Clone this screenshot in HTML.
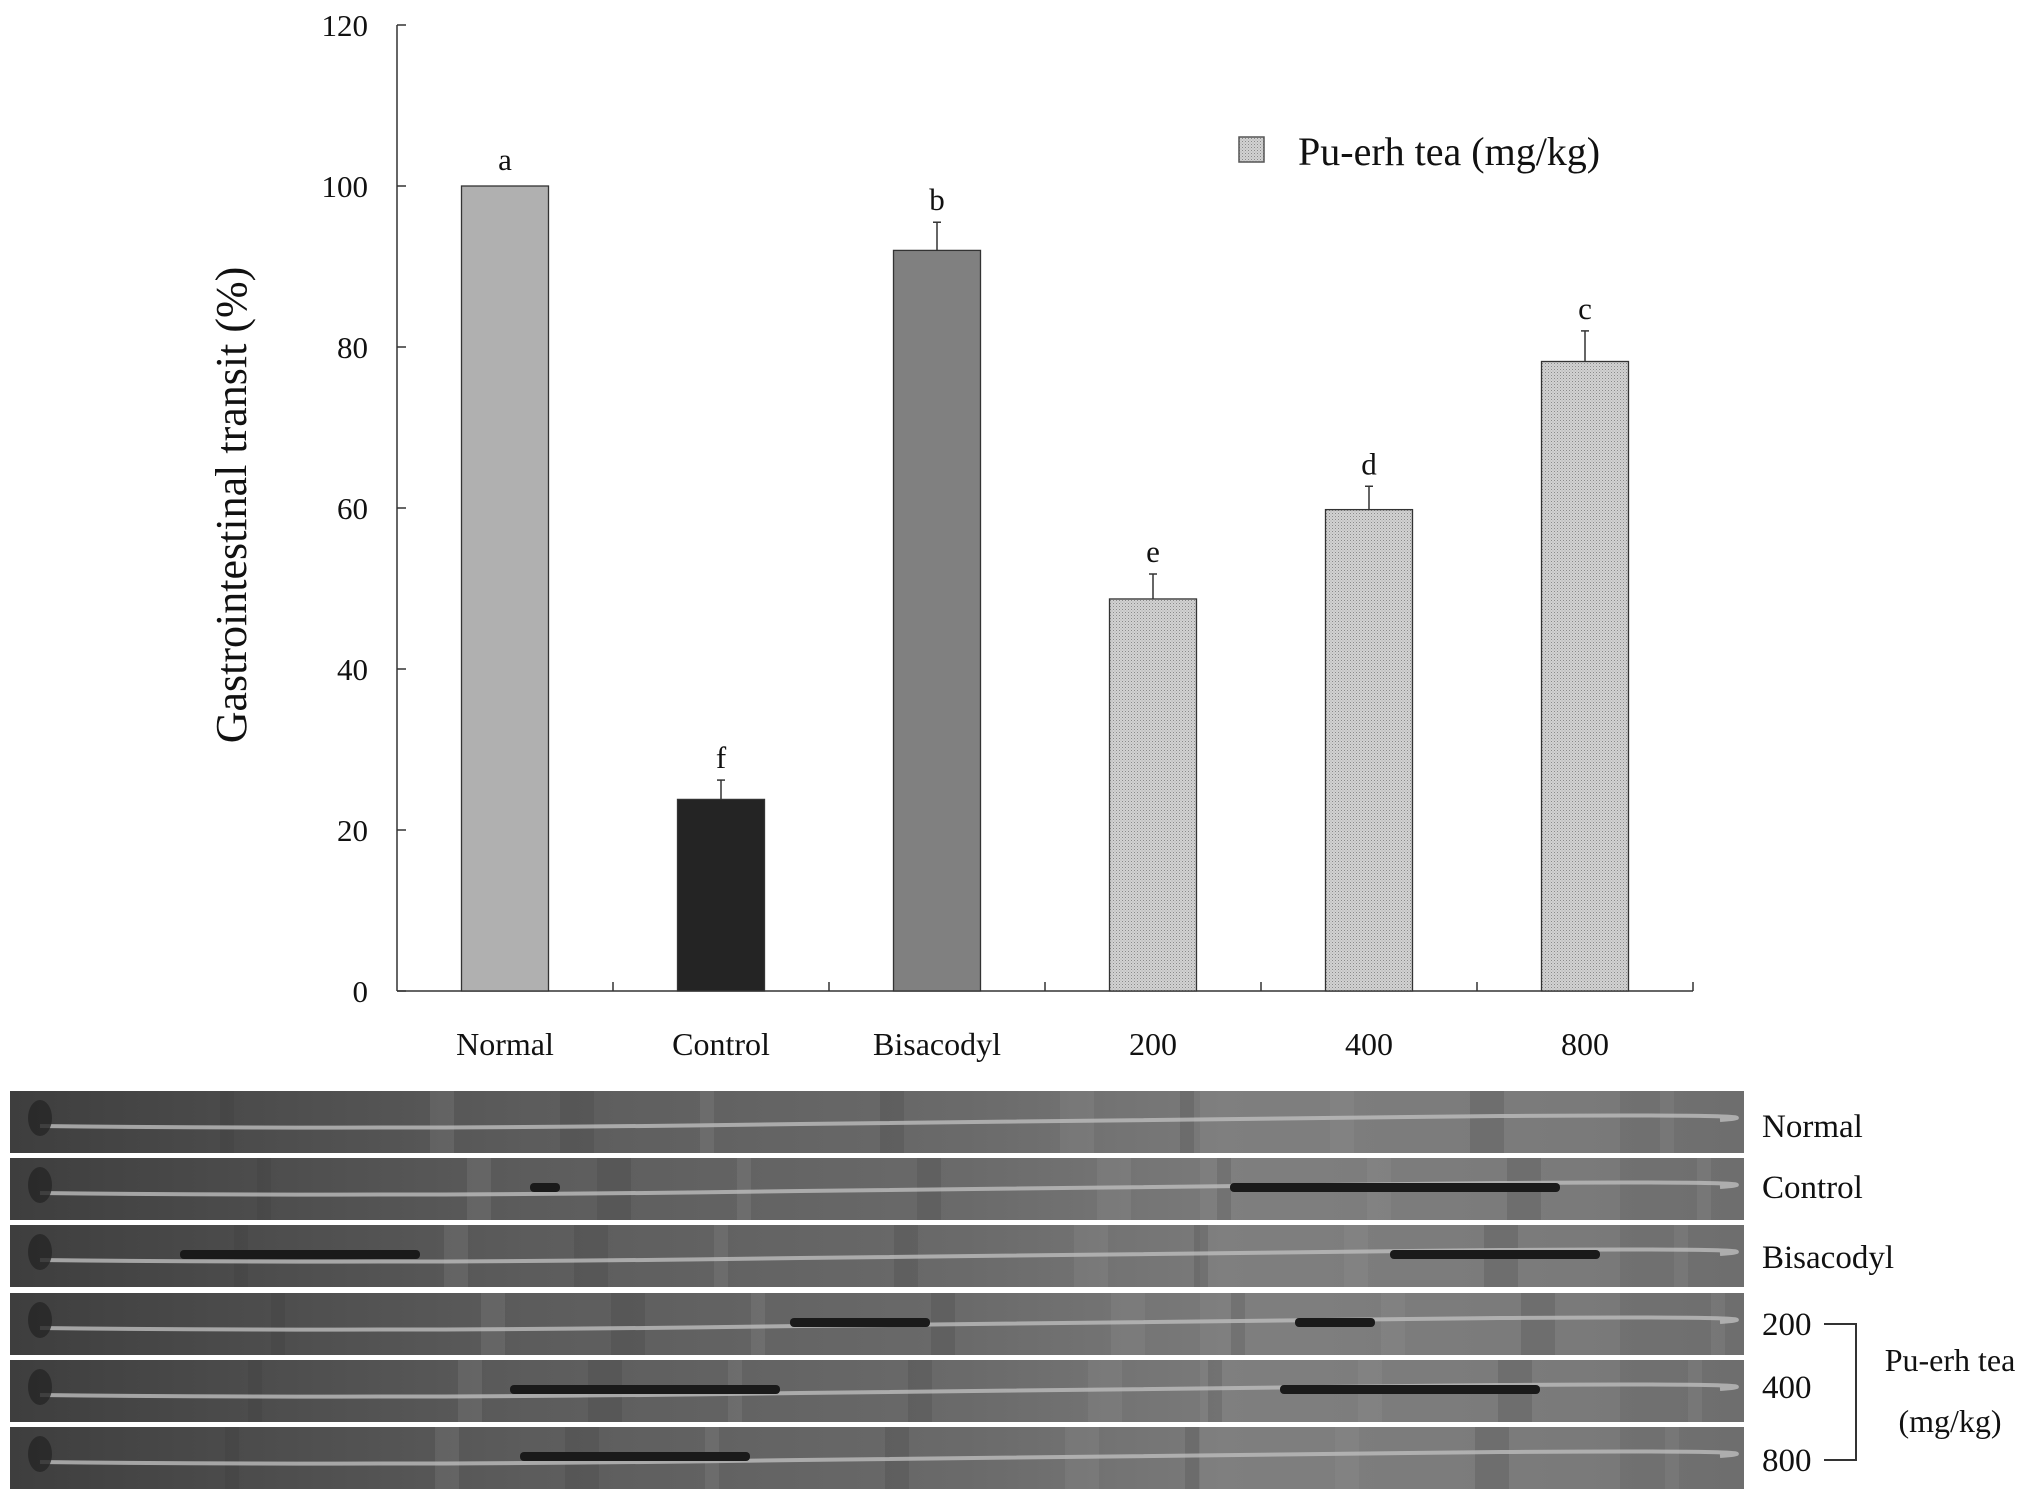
<!DOCTYPE html>
<html><head><meta charset="utf-8">
<style>
html,body{margin:0;padding:0;background:#fff;}
svg{display:block;}
text{font-family:"Liberation Serif",serif;fill:#111;}
</style></head>
<body>
<svg width="2031" height="1501" viewBox="0 0 2031 1501" xmlns="http://www.w3.org/2000/svg">
<defs>
<pattern id="dots" width="3" height="3" patternUnits="userSpaceOnUse">
<rect width="3" height="3" fill="#d2d2d2"/><rect width="1" height="1" fill="#8a8a8a"/><rect x="1.5" y="1.5" width="1" height="1" fill="#a8a8a8"/>
</pattern>
<linearGradient id="bg1" x1="0" x2="1" y1="0" y2="0">
<stop offset="0" stop-color="#3e3e3e"/><stop offset="0.3" stop-color="#5c5c5c"/><stop offset="0.55" stop-color="#6a6a6a"/><stop offset="0.7" stop-color="#7a7a7a"/><stop offset="1" stop-color="#6e6e6e"/>
</linearGradient>
</defs>
<g id="chart"></g>
<g id="photos"></g>
</svg>
<script>
const categories = ["Normal","Control","Bisacodyl","200","400","800"];
const values = [100, 23.8, 92, 48.7, 59.8, 78.2];
const errors = [0, 2.4, 3.5, 3.1, 2.9, 3.8];
const letters = ["a","f","b","e","d","c"];
const yTicks = [0,20,40,60,80,100,120];
const fills = ["#b0b0b0","#242424","#808080","url(#dots)","url(#dots)","url(#dots)"];

const NS="http://www.w3.org/2000/svg";
const x0=397, x1=1693, yBase=991, yTop=25, yMax=120;
const catW=(x1-x0)/categories.length, barW=87;
function yS(v){return yBase-(v/yMax)*(yBase-yTop);}
function xC(i){return x0+catW*(i+0.5);}
function mk(tag,attrs,parent,txt){const e=document.createElementNS(NS,tag);for(const k in attrs)e.setAttribute(k,attrs[k]);if(txt!==undefined)e.textContent=txt;parent.appendChild(e);return e;}
const chart=document.getElementById('chart');

let ya=mk('line',{x1:x0,y1:yTop,x2:x0,y2:yBase,stroke:'#333','stroke-width':1.5},chart);


let xa=mk('line',{x1:x0,y1:yBase,x2:x1,y2:yBase,stroke:'#333','stroke-width':1.5},chart);


yTicks.forEach(t=>{
  const y=yS(t);
  let tk=mk('line',{x1:x0,y1:y,x2:x0+9,y2:y,stroke:'#333','stroke-width':1.5},chart);
  
  
  let l=mk('text',{x:368,y:y+11,'text-anchor':'end','font-size':31},chart,String(t));
  
  
});
for(let i=1;i<=categories.length;i++){
  const x=x0+catW*i;
  let tk=mk('line',{x1:x,y1:yBase,x2:x,y2:yBase-9,stroke:'#333','stroke-width':1.5},chart);
  
  
}
let yt=mk('text',{x:0,y:0,'text-anchor':'middle','font-size':44,transform:'translate(246,505) rotate(-90)'},chart,'Gastrointestinal transit (%)');



categories.forEach((c,i)=>{
  const cx=xC(i), top=yS(values[i]);
  let b=mk('rect',{x:cx-barW/2,y:top,width:barW,height:yBase-top,fill:fills[i],stroke:'#333','stroke-width':1.3},chart);
  
  
  let ly;
  if(errors[i]>0){
    const et=yS(values[i]+errors[i]);
    let e=mk('line',{x1:cx,y1:top,x2:cx,y2:et,stroke:'#333','stroke-width':1.5},chart);
    
    
    let ec=mk('line',{x1:cx-4,y1:et,x2:cx+4,y2:et,stroke:'#333','stroke-width':1.5},chart);
    
    
    ly=et-12;
  } else ly=top-16;
  let lt=mk('text',{x:cx,y:ly,'text-anchor':'middle','font-size':31},chart,letters[i]);
  
  
  let xl=mk('text',{x:cx,y:1055,'text-anchor':'middle','font-size':32},chart,c);
  
  
});
let lg=mk('rect',{x:1239,y:137,width:25,height:25,fill:'url(#dots)',stroke:'#555','stroke-width':1.5},chart);


let lgt=mk('text',{x:1298,y:165,'font-size':40},chart,'Pu-erh tea (mg/kg)');



const photos=document.getElementById('photos');
const stripLabels=["Normal","Control","Bisacodyl","200","400","800"];
const stripTops=[1091,1158,1225,1293,1360,1427];
const darkSegs=[[],[[530,560],[1230,1560]],[[180,420],[1390,1600]],[[790,930],[1295,1375]],[[510,780],[1280,1540]],[[520,750]]];
stripTops.forEach((t,i)=>{
  const h=62, g=mk('g',{},photos);
  let r=mk('rect',{x:10,y:t,width:1734,height:h,fill:'url(#bg1)'},g);
  
  
  mk('rect',{x:1200,y:t,width:420,height:h,fill:'#8a8a8a',opacity:0.35},g);
  [220,430,560,700,880,1060,1180,1330,1470,1660].forEach((sx,k)=>mk('rect',{x:sx+((i*37)%60),y:t,width:14+(k%3)*10,height:h,fill:k%2?'#9a9a9a':'#3a3a3a',opacity:0.18},g));
  const my=t+h*0.5;
  mk('path',{d:`M40 ${my+4} Q 400 ${my+8} 800 ${my+2} T 1500 ${my-6} T 1720 ${my-2}`,stroke:'#bdbdbd','stroke-width':4,fill:'none',opacity:0.8},g);
  mk('ellipse',{cx:40,cy:my-4,rx:12,ry:18,fill:'#262626',opacity:0.8},g);
  darkSegs[i].forEach(s=>mk('rect',{x:s[0],y:my-6,width:s[1]-s[0],height:9,rx:4,fill:'#1a1a1a'},g));
  let sl=mk('text',{x:1762,y:[1137,1198,1268,1335,1398,1471][i],'font-size':33},photos,stripLabels[i]);
  
  
});
let br=mk('path',{d:'M1824 1324 H1856 V1460 H1824',stroke:'#333','stroke-width':2,fill:'none'},photos);


let b1=mk('text',{x:1950,y:1371,'text-anchor':'middle','font-size':32},photos,'Pu-erh tea');


let b2=mk('text',{x:1950,y:1432,'text-anchor':'middle','font-size':32},photos,'(mg/kg)');


</script>
</body></html>
